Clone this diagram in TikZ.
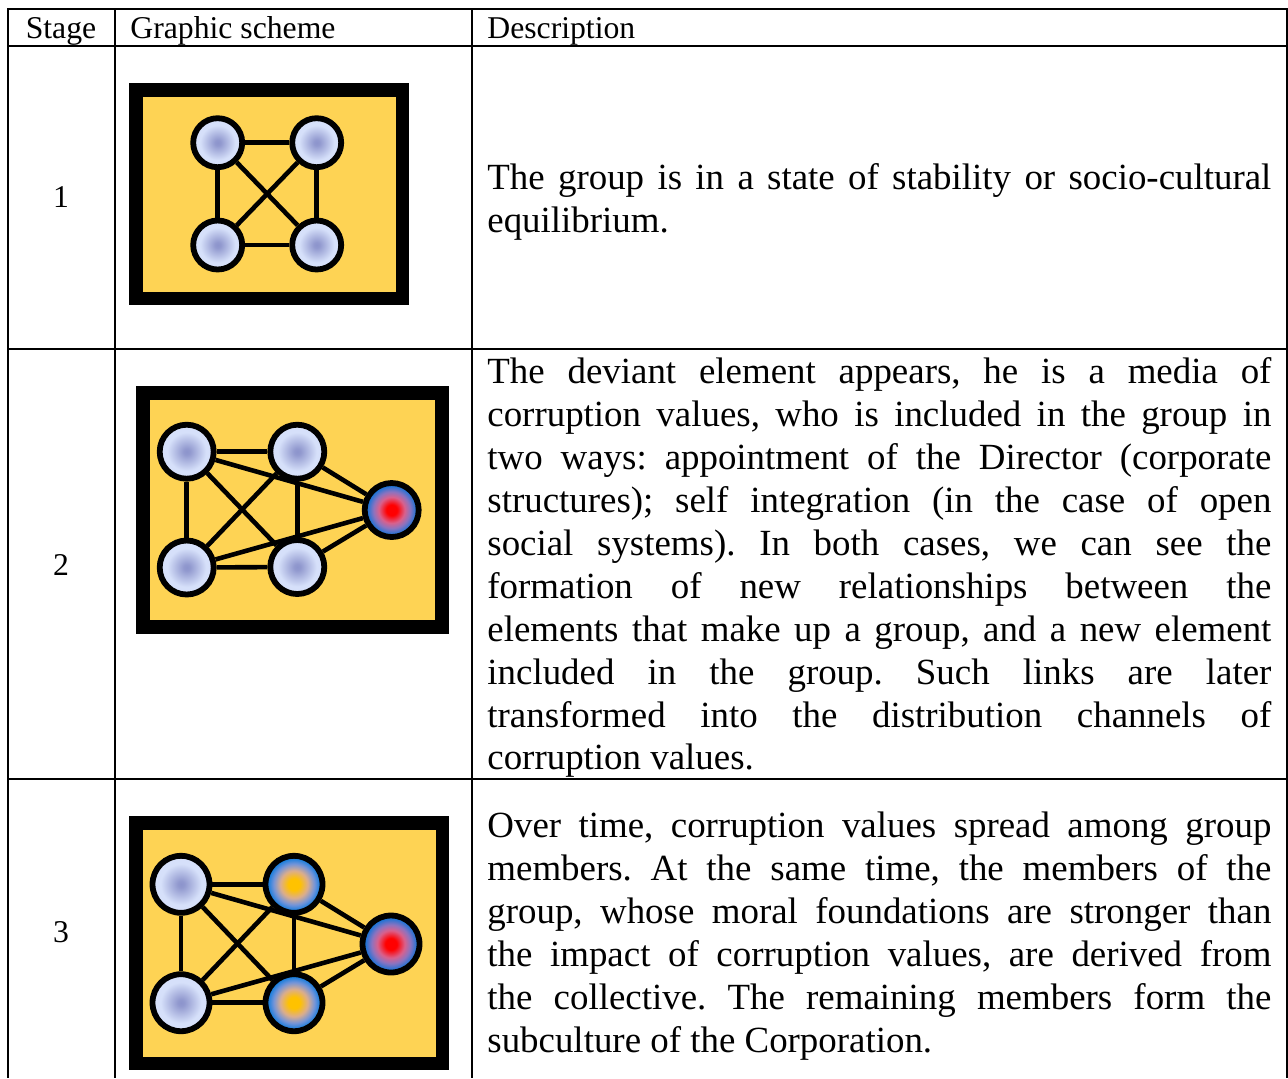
\documentclass[tikz,border=0pt]{standalone}
\usepackage{fontspec}
\setmainfont{Liberation Serif}
\hyphenpenalty=10000
\tolerance=10000
\frenchspacing
\pgfdeclareradialshading{lavsh}{\pgfpoint{0bp}{0bp}}{rgb(0bp)=(0.55,0.58,0.80); rgb(3bp)=(0.57,0.60,0.81); rgb(18bp)=(0.84,0.88,0.98); rgb(50bp)=(0.84,0.88,0.98)}
\pgfdeclareradialshading{redsh}{\pgfpoint{0bp}{0bp}}{rgb(0bp)=(1,0,0); rgb(5bp)=(1,0,0); rgb(12bp)=(0.85,0.38,0.55); rgb(17bp)=(0.55,0.45,0.75); rgb(24bp)=(0,0.45,0.86); rgb(50bp)=(0,0.45,0.86)}
\pgfdeclareradialshading{yelsh}{\pgfpoint{0bp}{0bp}}{rgb(0bp)=(1,0.76,0); rgb(5bp)=(1,0.76,0); rgb(12bp)=(0.86,0.68,0.55); rgb(18bp)=(0.45,0.58,0.85); rgb(24bp)=(0,0.47,0.87); rgb(50bp)=(0,0.47,0.87)}
\definecolor{boxyel}{RGB}{254,211,84}
\tikzset{
  tabline/.style={line width=1pt, line cap=rect},
  frameout/.style={fill=black},
  framein/.style={fill=boxyel},
  mem/.style={circle, draw=black, line width=2.9pt, inner sep=0pt, shade, shading=lavsh},
  devi/.style={mem, shading=redsh},
  corr/.style={mem, shading=yelsh},
  link/.style={line width=2.3pt},
  hdr/.style={anchor=base, inner sep=0pt, font=\fontsize{15.85}{19}\selectfont},
  desc/.style={anchor=base west, inner sep=0pt, text width=392pt, align=justify,
    font=\fontsize{18.45}{21.45}\selectfont}
}
\begin{document}
\begin{tikzpicture}[x=0.5pt, y=-0.5pt]
\useasboundingbox (0,0) rectangle (1288,1078);
% table
\draw[tabline] (7.5,9) -- (1286.5,9);
\draw[tabline] (7.5,46) -- (1286.5,46);
\draw[tabline] (7.5,349) -- (1286.5,349);
\draw[tabline] (7.5,779) -- (1286.5,779);
\draw[line width=1pt] (7.5,9) -- (7.5,1078);
\draw[line width=1pt] (114.5,9) -- (114.5,1078);
\draw[line width=1pt] (471.5,9) -- (471.5,1078);
\draw[line width=1pt] (1286.5,9) -- (1286.5,1078);
% header
\node[hdr] (hstage) at (61,38) {Stage};
\node[hdr, anchor=base west] (hgraph) at (130,38) {Graphic scheme};
\node[hdr, anchor=base west] (hdesc) at (487,38) {Description};
% stage numbers
\node[hdr] (s1) at (61,207.5) {1};
\node[hdr] (s2) at (61,575.5) {2};
\node[hdr] (s3) at (61,942.5) {3};
% descriptions
\node[desc] (d1) at (487,189.3) {The group is in a state of stability or socio-cultural\linebreak equilibrium.};
\node[desc] (d2) at (487,383.8) {The deviant element appears, he is a media of\linebreak corruption values, who is included in the group in\linebreak two ways: appointment of the Director (corporate\linebreak structures); self integration (in the case of open\linebreak social systems). In both cases, we can see the\linebreak formation of new relationships between the\linebreak elements that make up a group, and a new element\linebreak included in the group. Such links are later\linebreak transformed into the distribution channels of\linebreak corruption values.};
\node[desc] (d3) at (487,837.5) {Over time, corruption values spread among group\linebreak members. At the same time, the members of the\linebreak group, whose moral foundations are stronger than\linebreak the impact of corruption values, are derived from\linebreak the collective. The remaining members form the\linebreak subculture of the Corporation.};
% scheme 1
\fill[frameout] (129,83) rectangle (409,305);
\fill[framein] (142.5,96.5) rectangle (395.5,291.5);
\node[mem, minimum size=24.5pt] (a1) at (217.7,142.7) {};
\node[mem, minimum size=24.5pt] (b1) at (316.7,142.7) {};
\node[mem, minimum size=24.5pt] (c1) at (217.7,245) {};
\node[mem, minimum size=24.5pt] (d1n) at (316.7,245) {};
\draw[link] (a1) -- (b1);
\draw[link] (a1) -- (c1);
\draw[link] (b1) -- (d1n);
\draw[link] (c1) -- (d1n);
\draw[link] (a1) -- (d1n);
\draw[link] (b1) -- (c1);
% scheme 2
\fill[frameout] (136,386) rectangle (448.5,633.5);
\fill[framein] (149.5,399.5) rectangle (435,620);
\node[mem, minimum size=27pt] (a2) at (186.7,451.7) {};
\node[mem, minimum size=27pt] (b2) at (297.3,451.7) {};
\node[mem, minimum size=27pt] (c2) at (186.7,567.5) {};
\node[mem, minimum size=27pt] (d2n) at (297.3,567) {};
\node[devi, minimum size=27pt] (e2) at (391.7,510) {};
\foreach \u/\v in {a2/b2,a2/c2,a2/d2n,a2/e2,b2/c2,b2/d2n,b2/e2,c2/d2n,c2/e2,d2n/e2}
  \draw[link] (\u) -- (\v);
% scheme 3
\fill[frameout] (129,816) rectangle (448.5,1070);
\fill[framein] (142.5,829.5) rectangle (435.5,1057);
\node[mem, minimum size=28.5pt] (a3) at (181,884.3) {};
\node[corr, minimum size=28.5pt] (b3) at (294,884.3) {};
\node[mem, minimum size=28.5pt] (c3) at (181,1002.7) {};
\node[corr, minimum size=28.5pt] (d3n) at (294,1002.7) {};
\node[devi, minimum size=28.5pt] (e3) at (391,944) {};
\foreach \u/\v in {a3/b3,a3/c3,a3/d3n,a3/e3,b3/c3,b3/d3n,b3/e3,c3/d3n,c3/e3,d3n/e3}
  \draw[link] (\u) -- (\v);
\end{tikzpicture}
\end{document}
